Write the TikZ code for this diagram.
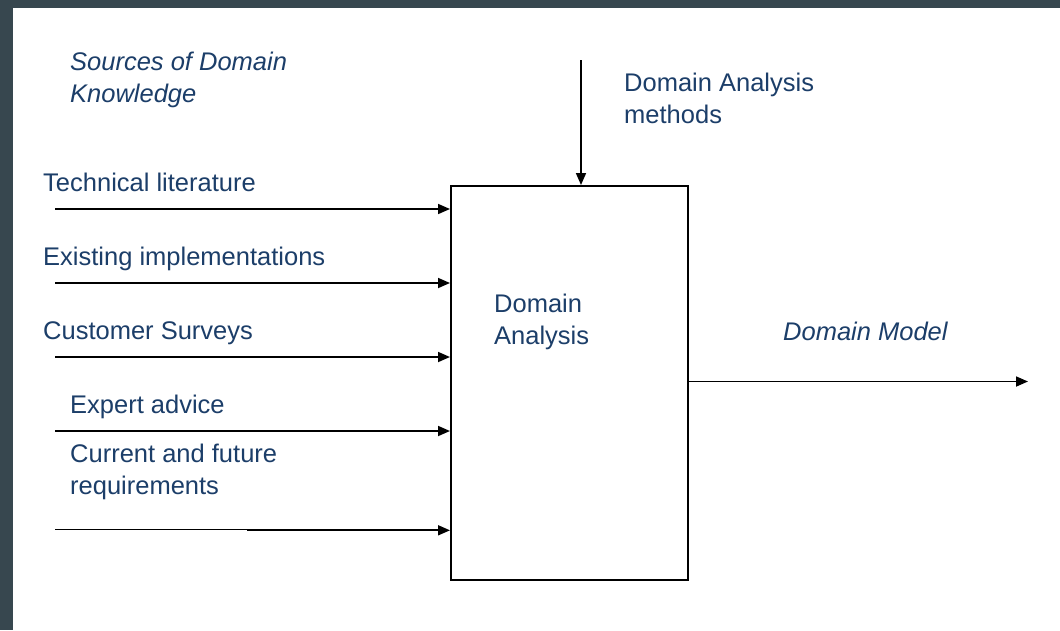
\documentclass[tikz,border=0pt]{standalone}
\usepackage{fontspec}
\setmainfont{Liberation Sans}
\usetikzlibrary{arrows.meta}
\definecolor{frame}{RGB}{55,71,79}
\definecolor{labelblue}{RGB}{28,62,105}
\tikzset{
  % multi-line labels are placed by the baseline of their last line
  lbl/.style={anchor=base west, inner sep=0pt, text=labelblue, align=left,
    font=\fontsize{25.5}{31.5}\selectfont},
  ilbl/.style={lbl, font=\fontsize{25.5}{32}\selectfont\itshape},
  flow/.style={line width=1.7pt, -{Triangle[length=12pt,width=10pt]}},
  procbox/.style={draw, line width=1.6pt, fill=white, inner sep=0pt, anchor=north west}
}
\begin{document}
\begin{tikzpicture}[x=1pt,y=-1pt]
  % page: dark frame on top and left, white sheet
  \fill[frame] (0,0) rectangle (1060,630);
  \fill[white] (13,8) rectangle (1060,630);
  \useasboundingbox (0,0) rectangle (1060,630);

  % central process box
  \node[procbox, minimum width=237pt, minimum height=394pt] (da) at (450,185) {};
  \node[lbl] (dalbl) at (494,344) {Domain\\Analysis};

  % heading of the inputs
  \node[ilbl] (src) at (70,102) {Sources of Domain\\Knowledge};

  % control arrow from above
  \coordinate (ctop) at (581,60);
  \draw[flow] (ctop) -- (ctop |- da.north);
  \node[lbl] (meth) at (624,123) {Domain Analysis\\methods};

  % input labels
  \node[lbl] (tl) at (43,191) {Technical literature};
  \node[lbl] (ei) at (43,265) {Existing implementations};
  \node[lbl] (cs) at (43,339) {Customer Surveys};
  \node[lbl] (ea) at (70,413) {Expert advice};
  \node[lbl] (cf) at (70,494) {Current and future\\requirements};

  % input arrows
  \coordinate (i1) at (55,209);
  \coordinate (i2) at (55,283);
  \coordinate (i3) at (55,357);
  \coordinate (i4) at (55,431);
  \coordinate (i5) at (55,529.5);
  \coordinate (i5b) at (247,530.3);
  \draw[flow] (i1) -- (i1 -| da.west);
  \draw[flow] (i2) -- (i2 -| da.west);
  \draw[flow] (i3) -- (i3 -| da.west);
  \draw[flow] (i4) -- (i4 -| da.west);
  \draw[line width=1pt] (i5) -- (i5 -| i5b);
  \draw[flow] (i5b) -- (i5b -| da.west);

  % output
  \coordinate (out) at (1028,381.5);
  \draw[flow] (da.east |- out) -- (out);
  \node[ilbl] (dm) at (783,340) {Domain Model};
\end{tikzpicture}
\end{document}
